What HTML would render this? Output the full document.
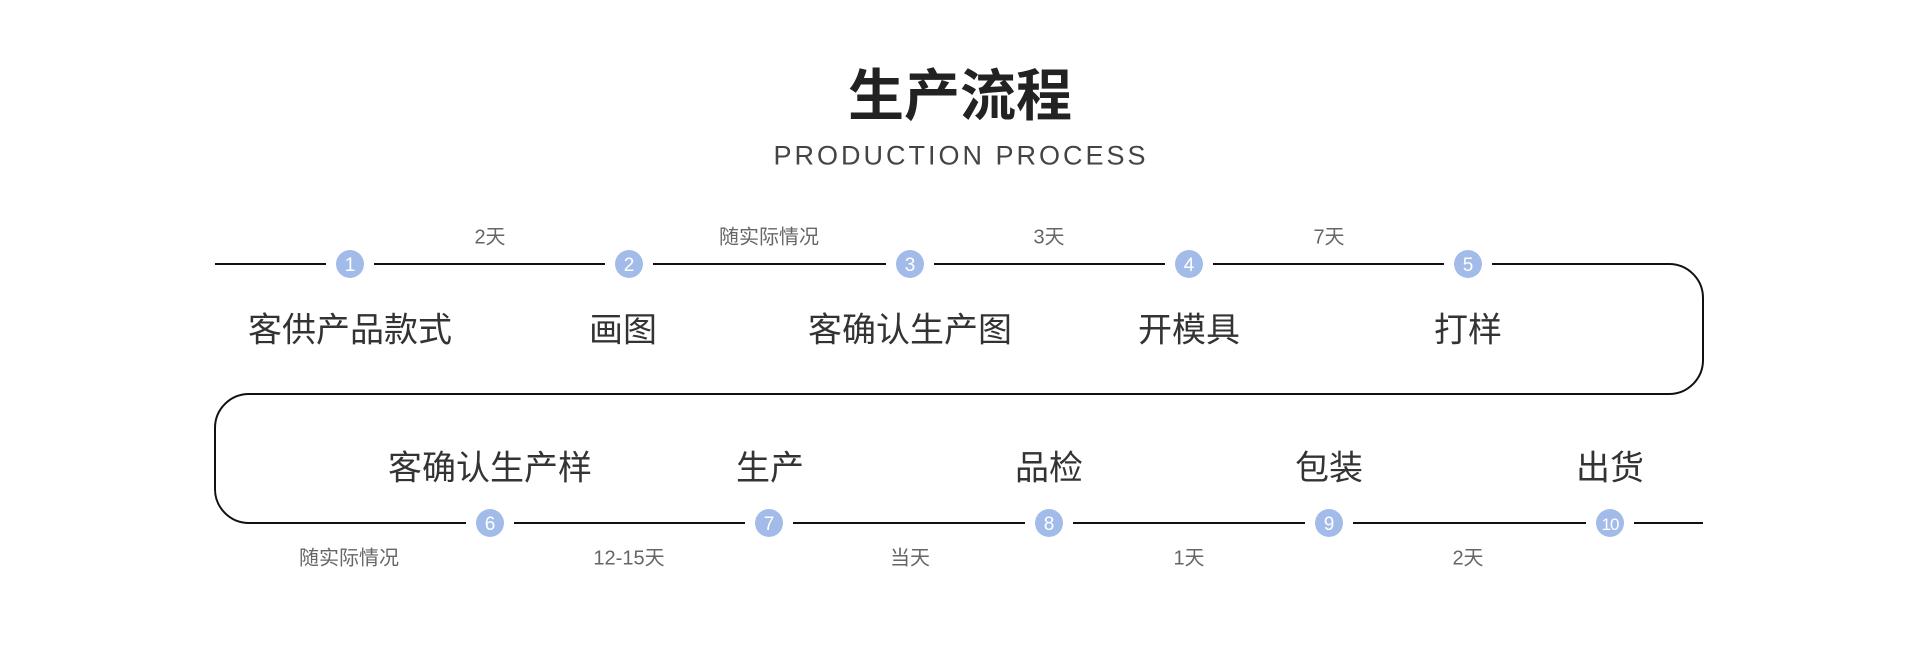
<!DOCTYPE html>
<html><head><meta charset="utf-8"><style>
html,body{margin:0;padding:0;background:#fff;}
body{width:1920px;height:672px;position:relative;overflow:hidden;font-family:"Liberation Sans","Noto Sans CJK SC",sans-serif;}
.t{position:absolute;transform:translate(-50%,-50%);white-space:nowrap;}
</style></head><body>
<svg width="1920" height="672" style="position:absolute;left:0;top:0">
<g stroke="#111" stroke-width="2" fill="none">
<path d="M215 264 H326 M374 264 H605 M653 264 H886 M934 264 H1165 M1213 264 H1444 M1492 264 H1669 A34 34 0 0 1 1703 298 V360 A34 34 0 0 1 1669 394 H249 A34 34 0 0 0 215 428 V489 A34 34 0 0 0 249 523 H466 M514 523 H745 M793 523 H1025 M1073 523 H1305 M1353 523 H1586 M1634 523 H1703"/>
</g>
<g fill="#a3bbe9">
<circle cx="350" cy="264" r="14"/><circle cx="629" cy="264" r="14"/><circle cx="910" cy="264" r="14"/><circle cx="1189" cy="264" r="14"/><circle cx="1468" cy="264" r="14"/>
<circle cx="490" cy="523" r="14"/><circle cx="769" cy="523" r="14"/><circle cx="1049" cy="523" r="14"/><circle cx="1329" cy="523" r="14"/><circle cx="1610" cy="523" r="14"/>
</g>
<g fill="#fff" font-family="Liberation Sans,sans-serif" font-size="19" text-anchor="middle">
<text x="350" y="271">1</text><text x="629" y="271">2</text><text x="910" y="271">3</text><text x="1189" y="271">4</text><text x="1468" y="271">5</text>
<text x="490" y="530">6</text><text x="769" y="530">7</text><text x="1049" y="530">8</text><text x="1329" y="530">9</text><text x="1610" y="530" font-size="17" letter-spacing="-1">10</text>
</g>
</svg>
<div class="t" style="left:960px;top:92px;font-size:56px;font-weight:bold;color:#222;">生产流程</div>
<div class="t" style="left:961px;top:156px;font-size:27px;letter-spacing:3px;color:#444;">PRODUCTION PROCESS</div>

<div class="t" style="left:490px;top:235px;font-size:20px;color:#666;">2天</div>
<div class="t" style="left:769px;top:235px;font-size:20px;color:#666;">随实际情况</div>
<div class="t" style="left:1049px;top:235px;font-size:20px;color:#666;">3天</div>
<div class="t" style="left:1329px;top:235px;font-size:20px;color:#666;">7天</div>

<div class="t" style="left:350px;top:327px;font-size:34px;color:#333;">客供产品款式</div>
<div class="t" style="left:623px;top:327px;font-size:34px;color:#333;">画图</div>
<div class="t" style="left:910px;top:327px;font-size:34px;color:#333;">客确认生产图</div>
<div class="t" style="left:1189px;top:327px;font-size:34px;color:#333;">开模具</div>
<div class="t" style="left:1468px;top:327px;font-size:34px;color:#333;">打样</div>

<div class="t" style="left:490px;top:465px;font-size:34px;color:#333;">客确认生产样</div>
<div class="t" style="left:770px;top:465px;font-size:34px;color:#333;">生产</div>
<div class="t" style="left:1049px;top:465px;font-size:34px;color:#333;">品检</div>
<div class="t" style="left:1329px;top:465px;font-size:34px;color:#333;">包装</div>
<div class="t" style="left:1610px;top:465px;font-size:34px;color:#333;">出货</div>

<div class="t" style="left:349px;top:556px;font-size:20px;color:#666;">随实际情况</div>
<div class="t" style="left:629px;top:556px;font-size:20px;color:#666;">12-15天</div>
<div class="t" style="left:910px;top:556px;font-size:20px;color:#666;">当天</div>
<div class="t" style="left:1189px;top:556px;font-size:20px;color:#666;">1天</div>
<div class="t" style="left:1468px;top:556px;font-size:20px;color:#666;">2天</div>
</body></html>
